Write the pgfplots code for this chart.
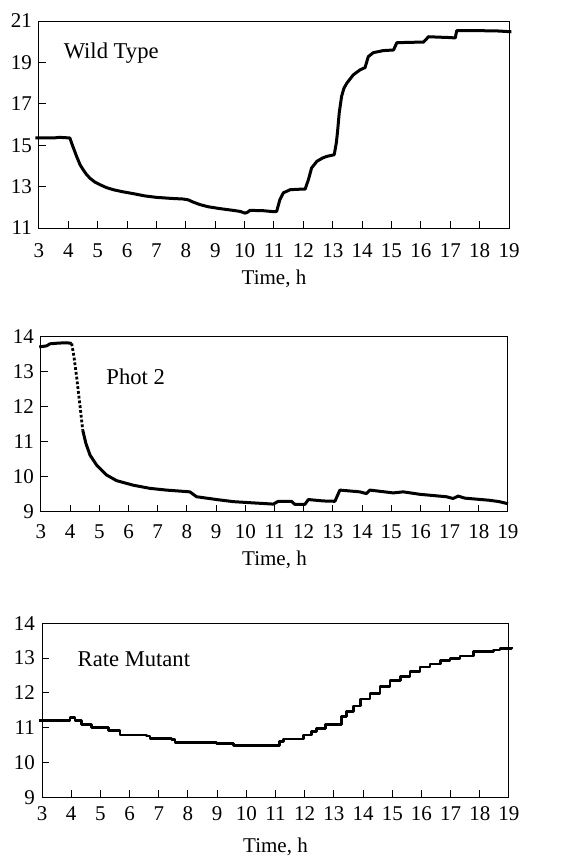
\documentclass[border=0pt]{standalone}
\usepackage{pgfplots}
\pgfplotsset{compat=1.18}
\usepackage{fontspec}
\setmainfont{Liberation Serif}

\pgfplotsset{
  panel/.style={
    scale only axis,
    anchor=south west,
    xmin=3, xmax=19,
    xtick distance=1,
    tick align=inside,
    xtick pos=bottom, ytick pos=left,
    major tick length=3.5pt,
    axis line style={line width=0.5pt},
    tick style={line width=0.5pt, black},
    clip=false,
    ticklabel style={font=\fontsize{10.5}{12}\selectfont},
    xticklabel style={text height=7pt, text depth=0pt},
    label style={font=\fontsize{10.5}{12}\selectfont},
    /pgf/number format/assume math mode=true,
    xlabel={Time, h},
  },
  curve/.style={black, line width=1.5pt, line join=round},
}
\tikzset{tag/.style={anchor=west, inner sep=0pt, font=\fontsize{11.3}{13}\selectfont}}

\begin{document}
\begin{tikzpicture}
\useasboundingbox (0,0) rectangle (283.5pt,429.5pt);

% Wild Type
\begin{axis}[panel, at={(19.5pt,315.5pt)}, width=235pt, height=103.5pt,
  ymin=11, ymax=21, ytick={11,13,15,17,19,21},
  xticklabel style={yshift=-4pt}, xlabel style={yshift=0.5pt}]
\addplot[curve] coordinates {
 (2.88,15.36)(3.5,15.35)(3.7,15.38)(4.05,15.35)(4.15,14.95)(4.28,14.46)(4.4,14.05)
 (4.51,13.8)(4.62,13.58)(4.74,13.4)(4.9,13.22)(5.08,13.09)(5.3,12.95)(5.53,12.85)
 (5.85,12.75)(6.21,12.66)(6.6,12.55)(7.0,12.48)(7.5,12.43)(7.91,12.4)(8.08,12.36)
 (8.25,12.25)(8.48,12.13)(8.75,12.03)(9.05,11.96)(9.35,11.9)(9.62,11.85)(9.85,11.8)
 (10.01,11.72)(10.1,11.76)(10.18,11.85)(10.6,11.84)(10.98,11.79)(11.09,11.8)
 (11.2,12.37)(11.32,12.7)(11.55,12.85)(11.8,12.87)(12.06,12.88)(12.17,13.33)
 (12.28,13.9)(12.46,14.22)(12.65,14.38)(12.8,14.46)(13.05,14.54)(13.12,15.1)
 (13.16,15.6)(13.22,16.55)(13.3,17.35)(13.38,17.75)(13.48,18.0)(13.7,18.4)
 (13.93,18.64)(14.1,18.75)(14.21,19.28)(14.38,19.47)(14.72,19.57)(15.07,19.6)
 (15.18,19.95)(15.6,19.97)(16.09,19.98)(16.26,20.24)(16.6,20.22)(17.0,20.2)
 (17.17,20.18)(17.22,20.53)(17.7,20.53)(18.13,20.53)(18.6,20.52)(19.08,20.48)
};
\node[tag] at (axis cs:3.83,19.45) {Wild Type};
\end{axis}

% Phot 2
\begin{axis}[panel, at={(20.5pt,173.6pt)}, width=233.5pt, height=87.5pt,
  ymin=9, ymax=14, ytick={9,10,...,14},
  xticklabel style={yshift=-3pt}, xlabel style={yshift=1pt}]
\addplot[curve] coordinates {
 (2.94,13.71)(3.19,13.74)(3.31,13.8)(3.6,13.82)(3.88,13.83)(4.05,13.81)
};
\addplot[black, line width=1.4pt, densely dotted] coordinates {
 (4.05,13.81)(4.13,13.43)(4.22,12.86)(4.34,12.0)(4.43,11.33)
};
\addplot[curve] coordinates {
 (4.43,11.33)(4.54,10.95)(4.68,10.62)(4.91,10.33)(5.25,10.05)(5.59,9.89)
 (6.16,9.76)(6.73,9.67)(7.3,9.62)(8.1,9.57)(8.33,9.43)(9.02,9.35)(9.59,9.29)
 (10.16,9.26)(10.96,9.22)(11.13,9.3)(11.58,9.3)(11.7,9.21)(12.04,9.21)
 (12.16,9.35)(12.67,9.31)(13.07,9.3)(13.24,9.62)(13.92,9.57)(14.15,9.52)
 (14.27,9.62)(15.07,9.54)(15.41,9.57)(15.98,9.5)(16.89,9.43)(17.12,9.38)
 (17.29,9.45)(17.52,9.39)(18.36,9.33)(18.7,9.29)(19.0,9.23)
};
\node[tag] at (axis cs:5.23,12.86) {Phot 2};
\end{axis}

% Rate Mutant
\begin{axis}[panel, at={(21pt,30.9pt)}, width=233.5pt, height=87pt,
  ymin=9, ymax=14, ytick={9,10,...,14},
  xticklabel style={yshift=-1pt}, xlabel style={yshift=-2pt}]
\addplot[curve, line width=1.4pt, const plot] coordinates {
 (2.91,11.2)(3.85,11.2)(3.96,11.3)(4.13,11.21)(4.36,11.1)(4.7,11.01)(5.27,10.92)
 (5.67,10.79)(6.59,10.76)(6.7,10.69)(7.44,10.65)(7.56,10.58)(8.19,10.58)
 (8.98,10.55)(9.56,10.48)(10.98,10.48)(11.15,10.6)(11.27,10.67)(11.95,10.79)
 (12.24,10.89)(12.41,10.98)(12.7,11.08)(13.15,11.1)(13.27,11.32)(13.44,11.46)
 (13.67,11.62)(13.9,11.82)(14.24,11.99)(14.58,12.18)(14.92,12.35)(15.27,12.47)
 (15.61,12.61)(15.95,12.74)(16.29,12.83)(16.64,12.92)(16.98,12.98)(17.32,13.06)
 (17.78,13.19)(18.46,13.23)(18.69,13.28)(19.09,13.33)
};
\node[tag] at (axis cs:4.21,12.97) {Rate Mutant};
\end{axis}
\end{tikzpicture}
\end{document}
